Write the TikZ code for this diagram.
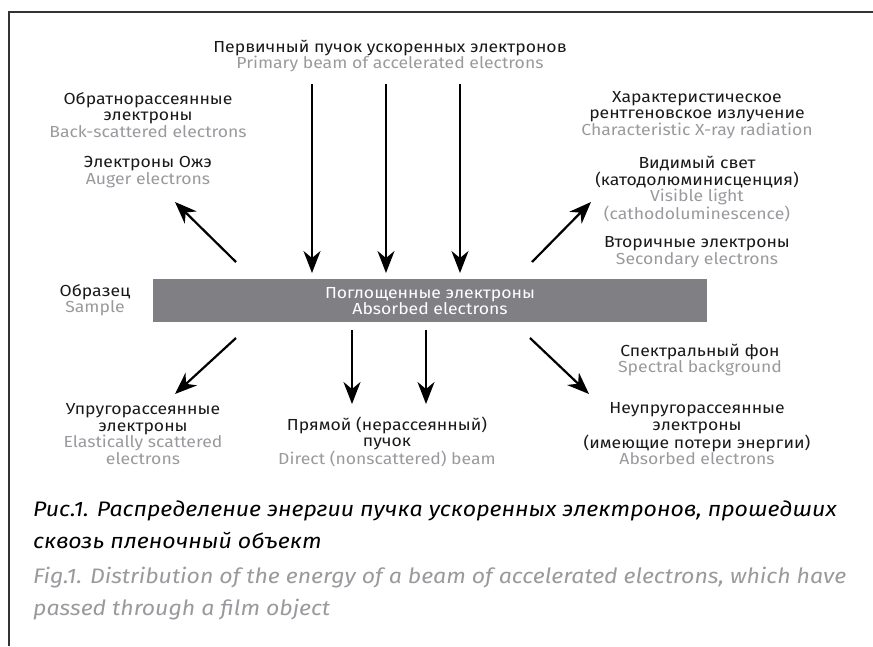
\documentclass[tikz,border=0pt]{standalone}
\usepackage{fontspec}
\setmainfont{Fira Sans}[FakeStretch=1.1]
\usetikzlibrary{arrows.meta}
\definecolor{txtgray}{HTML}{9A9A9E}
\definecolor{barcol}{HTML}{808084}
\definecolor{framecol}{HTML}{333333}
\begin{document}
\begin{tikzpicture}[x=1pt,y=-1pt,
  lbl/.style={align=center, inner sep=0pt, font=\fontsize{16}{16.5}\selectfont, text=black!90},
  captext/.style={anchor=west, inner sep=0pt, font=\fontsize{21}{32}\selectfont\itshape, align=left},
  arr/.style={line width=2.2pt, -{Stealth[length=22pt,width=17pt,inset=7pt]}}]
\useasboundingbox (0,0) rectangle (873,646);
\draw[framecol, line width=1.2pt] (9,646) -- (9,12) -- (873,12);

% bar
\node[fill=barcol, minimum width=554pt, minimum height=43pt, inner sep=0pt, anchor=north west] (bar) at (153,279) {};
\node[lbl, text=white] (abs) at (430,301) {Поглощенные электроны\\Absorbed electrons};

% labels
\node[lbl] (prim) at (390,56) {Первичный пучок ускоренных электронов\\\textcolor{txtgray}{Primary beam of accelerated electrons}};
\node[lbl] (back) at (148,115) {Обратнорассеянные\\электроны\\\textcolor{txtgray}{Back-scattered electrons}};
\node[lbl] (auger) at (148,172) {Электроны Ожэ\\\textcolor{txtgray}{Auger electrons}};
\node[lbl] (xray) at (697,115) {Характеристическое\\рентгеновское излучение\\\textcolor{txtgray}{Characteristic X-ray radiation}};
\node[lbl] (vis) at (697,189) {Видимый свет\\(катодолюминисценция)\\\textcolor{txtgray}{Visible light}\\\textcolor{txtgray}{(cathodoluminescence)}};
\node[lbl] (sec) at (697,252) {Вторичные электроны\\\textcolor{txtgray}{Secondary electrons}};
\node[lbl] (sample) at (95,300) {Образец\\\textcolor{txtgray}{Sample}};
\node[lbl] (spec) at (700,360) {Спектральный фон\\\textcolor{txtgray}{Spectral background}};
\node[lbl] (elast) at (143,434) {Упругорассеянные\\электроны\\\textcolor{txtgray}{Elastically scattered}\\\textcolor{txtgray}{electrons}};
\node[lbl] (direct) at (387,442) {Прямой (нерассеянный)\\пучок\\\textcolor{txtgray}{Direct (nonscattered) beam}};
\node[lbl] (inel) at (697,434) {Неупругорассеянные\\электроны\\(имеющие потери энергии)\\\textcolor{txtgray}{Absorbed electrons}};

% caption
\node[captext] (capru) at (33,525) {Рис.1. Распределение энергии пучка ускоренных электронов, прошедших\\сквозь пленочный объект};
\node[captext, text=txtgray] (capen) at (33,594) {Fig.1. Distribution of the energy of a beam of accelerated electrons, which have\\passed through a film object};

% arrow coordinates
\coordinate (d1s) at (312,84); \coordinate (d1e) at (312,273);
\coordinate (d2s) at (386,84); \coordinate (d2e) at (386,273);
\coordinate (d3s) at (460,84); \coordinate (d3e) at (460,273);
\coordinate (uls) at (236,262); \coordinate (ule) at (175,202);
\coordinate (urs) at (532,262); \coordinate (ure) at (591,202);
\coordinate (lls) at (236,338); \coordinate (lle) at (175,394);
\coordinate (lrs) at (530,338); \coordinate (lre) at (589,394);
\coordinate (b1s) at (352,330); \coordinate (b1e) at (352,404);
\coordinate (b2s) at (426,330); \coordinate (b2e) at (426,404);

\foreach \a in {d1,d2,d3,ul,ur,ll,lr,b1,b2}{
  \draw[arr] (\a s) -- (\a e);
}
\end{tikzpicture}
\end{document}
